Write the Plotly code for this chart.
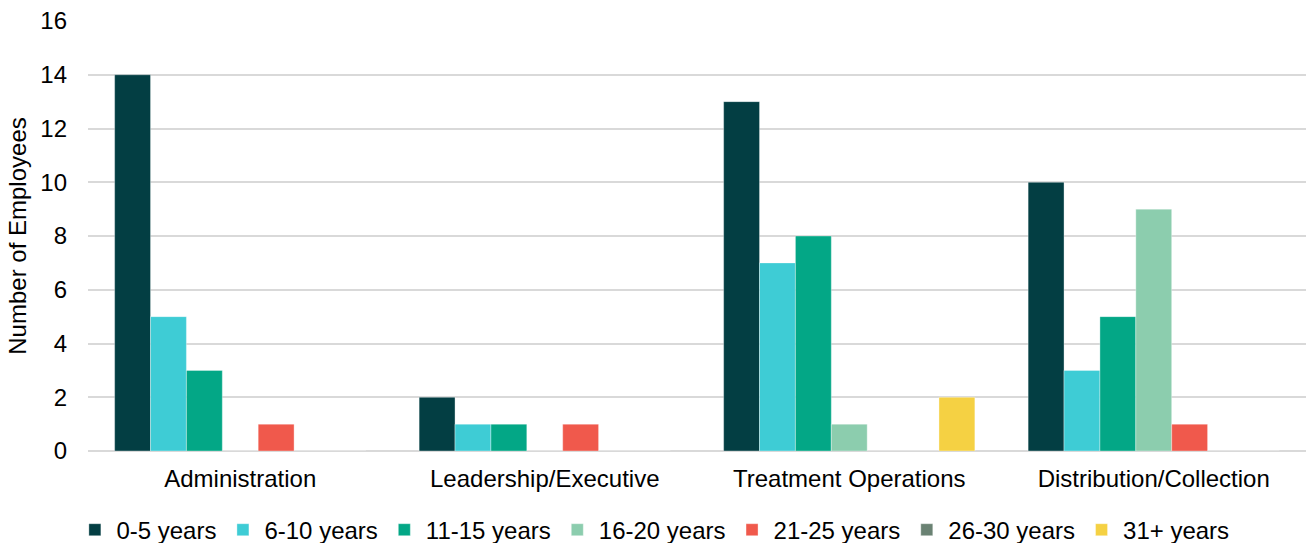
import plotly.graph_objects as go

categories = ["Administration", "Leadership/Executive", "Treatment Operations", "Distribution/Collection"]
series_names = ["0-5 years", "6-10 years", "11-15 years", "16-20 years", "21-25 years", "26-30 years", "31+ years"]

yrs_0_5 = [14, 2, 13, 10]
yrs_6_10 = [5, 1, 7, 3]
yrs_11_15 = [3, 1, 8, 5]
yrs_16_20 = [0, 0, 1, 9]
yrs_21_25 = [1, 1, 0, 1]
yrs_26_30 = [0, 0, 0, 0]
yrs_31_plus = [0, 0, 2, 0]

series_values = [yrs_0_5, yrs_6_10, yrs_11_15, yrs_16_20, yrs_21_25, yrs_26_30, yrs_31_plus]
colors = ["#033E43", "#3ECCD5", "#03A786", "#8CCDAE", "#F0594C", "#6A8273", "#F5D143"]

y_ticks = [0, 2, 4, 6, 8, 10, 12, 14, 16]

fig = go.Figure()
for name, vals, col in zip(series_names, series_values, colors):
    fig.add_trace(go.Bar(
        name=name, x=categories, y=vals,
        marker=dict(color=col, line=dict(color="rgba(255,255,255,0.35)", width=1)),
    ))

family = "Liberation Sans, Arial, sans-serif"
font = dict(family=family, size=24, color="#000000")

fig.update_layout(
    barmode="group",
    bargap=0.175,
    bargroupgap=0,
    width=1307, height=543,
    margin=dict(l=88, r=1, t=21, b=92, autoexpand=False),
    paper_bgcolor="white", plot_bgcolor="white",
    font=font,
    showlegend=True,
    legend=dict(
        orientation="h", x=-0.012, xanchor="left",
        y=-0.184, yanchor="middle", font=font, traceorder="normal",
        itemwidth=33,
    ),
    xaxis=dict(
        showgrid=False, showline=False, ticks="", tickangle=0, automargin=False,
        ticklabelstandoff=11, tickfont=font,
    ),
    yaxis=dict(
        range=[0, 16], tickvals=y_ticks, showgrid=True, automargin=False,
        gridcolor="#D9D9D9", gridwidth=1.5, zeroline=True,
        zerolinecolor="#D9D9D9", zerolinewidth=1.5, showline=False,
        ticks="", ticklabelstandoff=20, tickfont=font,
        title=dict(text="Number of Employees", font=dict(family=family, size=24, color="#000000"), standoff=6),
    ),
)

fig.write_html("out.html")
